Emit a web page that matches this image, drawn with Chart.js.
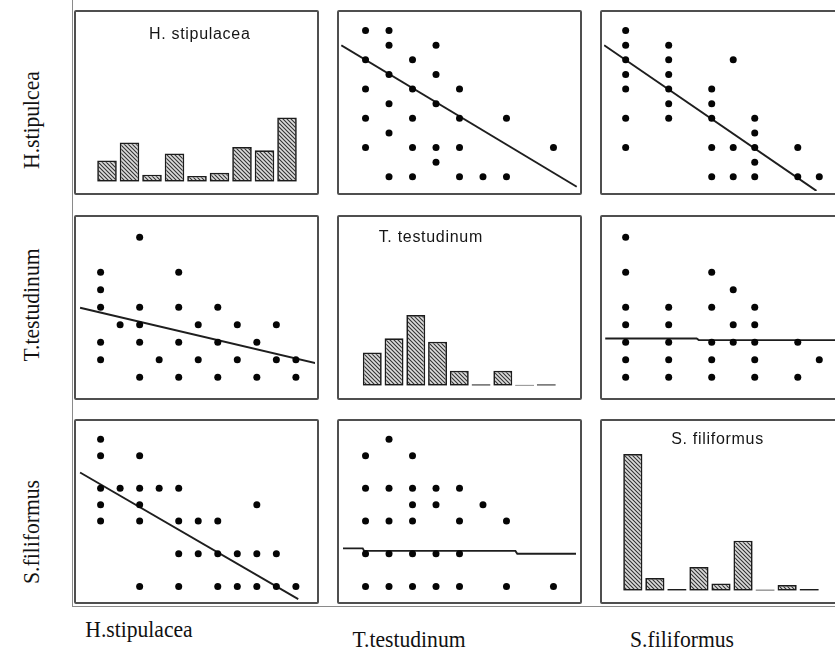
<!DOCTYPE html>
<html>
<head>
<meta charset="utf-8">
<script src="https://cdn.jsdelivr.net/npm/chart.js@4.4.1/dist/chart.umd.min.js"></script>
<style>
  html, body { margin:0; padding:0; background:#fff; }
  body { width:835px; height:653px; overflow:hidden; position:relative; }
  .panel { position:absolute; box-sizing:border-box; border:2px solid #4f4f4f; border-radius:2px; background:#fff; overflow:hidden; }
  .panel canvas { display:block; }
  .htitle { position:absolute; font-family:"Liberation Sans", Arial, sans-serif; font-size:16px; letter-spacing:0.7px; color:#151515; transform:translate(-50%,-50%); white-space:nowrap; line-height:1; }
  .lab { position:absolute; font-family:"Liberation Serif", "Times New Roman", serif; font-size:24px; color:#111; white-space:nowrap; line-height:1; }
  .frame { position:absolute; background:#8a8a8a; }
</style>
</head>
<body>
<div class="frame" style="left:72px; top:0; width:1px; height:607px;"></div>
<div class="frame" style="left:72px; top:606px; width:763px; height:1px;"></div>
<div id="panels"></div>
<div id="labels"></div>
<script>
// ---------------- DATA ----------------
const VARIABLES = ["H.stipulacea", "T.testudinum", "S.filiformus"];
const ROW_LABELS = ["H.stipulcea", "T.testudinum", "S.filiformus"];
const HIST_TITLES = ["H. stipulacea", "T. testudinum", "S. filiformus"];

// Histogram bar heights (relative frequency)
const H_HIST = [3.3, 6.1, 1.1, 4.4, 0.9, 1.4, 5.4, 4.9, 10];
const T_HIST = [4.7, 6.7, 10, 6.2, 2.1, 0.2, 2.1, 0.12, 0.2];
const S_HIST = [10, 0.93, 0.12, 1.73, 0.53, 3.66, 0.08, 0.42, 0.13];
const BINS = ["1", "2", "3", "4", "5", "6", "7", "8", "9"];

// Paired observations (ranked levels)
const HT_H = [10, 10, 9, 9, 8, 8, 7, 7, 6, 6, 6, 5, 5, 4, 4, 4, 4, 3, 2, 2, 2, 2, 2, 1, 0, 0, 0, 0, 0];
const HT_T = [1, 0, 1, 3, 0, 2, 1, 3, 0, 2, 4, 1, 3, 0, 2, 4, 6, 1, 0, 2, 3, 4, 8, 3, 1, 2, 4, 5, 6];

const HS_H = [10, 9, 8, 7, 6, 4, 2, 9, 8, 7, 6, 5, 4, 6, 5, 4, 2, 0, 8, 2, 0, 4, 3, 2, 1, 0, 2, 0, 0];
const HS_S = [0, 0, 0, 0, 0, 0, 0, 2, 2, 2, 2, 2, 2, 4, 4, 4, 4, 4, 5, 5, 5, 6, 6, 6, 6, 6, 8, 8, 9];

const TS_T = [8, 6, 4, 3, 2, 1, 0, 4, 3, 2, 1, 0, 6, 4, 2, 1, 0, 5, 3, 2, 4, 3, 2, 1, 0, 2, 0, 1];
const TS_S = [0, 0, 0, 0, 0, 0, 0, 2, 2, 2, 2, 2, 4, 4, 4, 4, 4, 5, 5, 5, 6, 6, 6, 6, 6, 8, 8, 9];

// Fitted lines (x values, y values)
const FIT_T_ON_H_X = [-1.05, 11.0];        // panel row T, col H
const FIT_T_ON_H_Y = [3.97, 0.81];
const FIT_H_ON_T_X = [-1.03, 8.99];        // panel row H, col T
const FIT_H_ON_T_Y = [9.0, -0.68];
const FIT_H_ON_S_X = [-1.0, 8.87];         // panel row H, col S
const FIT_H_ON_S_Y = [9.0, -0.96];
const FIT_S_ON_H_X = [-1.05, 10.12];       // panel row S, col H
const FIT_S_ON_H_Y = [6.97, -0.78];
const FIT_T_ON_S_X = [-0.95, 3.3, 3.4, 10.7];  // panel row T, col S
const FIT_T_ON_S_Y = [2.21, 2.21, 2.12, 2.12];
const FIT_S_ON_T_X = [-0.96, -0.12, -0.06, 6.38, 6.46, 8.96]; // panel row S, col T
const FIT_S_ON_T_Y = [2.33, 2.33, 2.175, 2.175, 2.0, 2.0];

// ---------------- LAYOUT ----------------
const COLS = [[74, 319], [337, 582], [600, 862]];
const ROWS = [[10, 195], [215, 400], [419, 604]];
// axis value ranges mapped to each panel's inner area
const XRANGE = { H: [-1.054, 10.876], T: [-0.959, 8.959], S: [-0.914, 10.707] };
const YRANGE = { H: [-0.830, 11.0], T: [-0.962, 8.929], S: [-0.708, 9.877] };

function makeHatch() {
  const c = document.createElement('canvas');
  c.width = 4; c.height = 4;
  const x = c.getContext('2d');
  x.fillStyle = '#dcdcdc';
  x.fillRect(0, 0, 4, 4);
  x.strokeStyle = '#333';
  x.lineWidth = 1.1;
  x.beginPath();
  x.moveTo(0, 0); x.lineTo(4, 4);
  x.moveTo(-1, 3); x.lineTo(1, 5);
  x.moveTo(3, -1); x.lineTo(5, 1);
  x.stroke();
  return x.createPattern(c, 'repeat');
}
const HATCH = makeHatch();

function makePanel(r, c) {
  const d = document.createElement('div');
  d.className = 'panel';
  const [x0, x1] = COLS[c], [y0, y1] = ROWS[r];
  d.style.left = x0 + 'px'; d.style.top = y0 + 'px';
  d.style.width = (x1 - x0) + 'px'; d.style.height = (y1 - y0) + 'px';
  const cv = document.createElement('canvas');
  cv.width = x1 - x0 - 4; cv.height = y1 - y0 - 4;
  cv.style.width = cv.width + 'px'; cv.style.height = cv.height + 'px';
  d.appendChild(cv);
  document.getElementById('panels').appendChild(d);
  return cv;
}

const baseOpts = () => ({
  responsive: false, animation: false, events: [],
  plugins: { legend: { display: false }, tooltip: { enabled: false }, title: { display: false } },
});

function pts(xs, ys) { return xs.map((v, i) => ({ x: v, y: ys[i] })); }

function scatterPanel(r, c, xs, ys, fx, fy, xk, yk) {
  const cv = makePanel(r, c);
  const o = baseOpts();
  o.layout = { padding: 0 };
  o.scales = {
    x: { type: 'linear', display: false, min: XRANGE[xk][0], max: XRANGE[xk][1] },
    y: { type: 'linear', display: false, min: YRANGE[yk][0], max: YRANGE[yk][1] }
  };
  new Chart(cv, {
    type: 'scatter',
    data: {
      datasets: [
        { data: pts(xs, ys), pointRadius: 3.5, pointBackgroundColor: '#050505', pointBorderWidth: 0, clip: 6 },
        { type: 'line', data: pts(fx, fy), showLine: true, borderColor: '#1e1e1e', borderWidth: 1.9, pointRadius: 0, fill: false, tension: 0, clip: 2 }
      ]
    },
    options: o
  });
}

function histPanel(r, c, vals, pad, ymax) {
  const cv = makePanel(r, c);
  const o = baseOpts();
  o.layout = { padding: pad };
  o.scales = {
    x: { type: 'category', display: false, offset: true, grid: { display: false } },
    y: { type: 'linear', display: false, min: 0, max: ymax }
  };
  new Chart(cv, {
    type: 'bar',
    data: {
      labels: BINS,
      datasets: [{
        data: vals, backgroundColor: HATCH, borderColor: '#1c1c1c', borderWidth: 1.7,
        borderSkipped: false, barPercentage: 0.87, categoryPercentage: 1.0
      }]
    },
    options: o
  });
}

// Diagonal histograms
histPanel(0, 0, H_HIST, { left: 19.75, right: 18.75, top: 0, bottom: 11.3 }, 26.39);
histPanel(1, 1, T_HIST, { left: 22.4, right: 22.8, top: 0, bottom: 12.3 }, 23.86);
histPanel(2, 2, S_HIST, { left: 19.8, right: 39.8, top: 0, bottom: 11.3 }, 12.41);

// Off-diagonal scatter panels (row variable on y, column variable on x)
scatterPanel(0, 1, HT_T, HT_H, FIT_H_ON_T_X, FIT_H_ON_T_Y, 'T', 'H');
scatterPanel(0, 2, HS_S, HS_H, FIT_H_ON_S_X, FIT_H_ON_S_Y, 'S', 'H');
scatterPanel(1, 0, HT_H, HT_T, FIT_T_ON_H_X, FIT_T_ON_H_Y, 'H', 'T');
scatterPanel(1, 2, TS_S, TS_T, FIT_T_ON_S_X, FIT_T_ON_S_Y, 'S', 'T');
scatterPanel(2, 0, HS_H, HS_S, FIT_S_ON_H_X, FIT_S_ON_H_Y, 'H', 'S');
scatterPanel(2, 1, TS_T, TS_S, FIT_S_ON_T_X, FIT_S_ON_T_Y, 'T', 'S');

// ---------------- TEXT ----------------
const labels = document.getElementById('labels');
function addText(cls, txt, css) {
  const d = document.createElement('div');
  d.className = cls; d.textContent = txt;
  Object.assign(d.style, css);
  labels.appendChild(d);
}
const TITLE_POS = [[199.7, 33.5], [430.8, 237], [717.5, 438.5]];
HIST_TITLES.forEach((t, i) => addText('htitle', t, { left: TITLE_POS[i][0] + 'px', top: TITLE_POS[i][1] + 'px' }));

const BOTTOM_POS = [[139, 629], [409, 639], [681.5, 639]];
VARIABLES.forEach((t, i) => addText('lab', t, {
  left: BOTTOM_POS[i][0] + 'px', top: BOTTOM_POS[i][1] + 'px',
  transform: 'translate(-50%,-50%) scaleX(0.9)'
}));
const LEFT_POS = [[31, 120], [31, 305], [31, 532]];
ROW_LABELS.forEach((t, i) => addText('lab', t, {
  left: LEFT_POS[i][0] + 'px', top: LEFT_POS[i][1] + 'px',
  transform: 'translate(-50%,-50%) rotate(-90deg) scaleX(0.9)'
}));
</script>
</body>
</html>
